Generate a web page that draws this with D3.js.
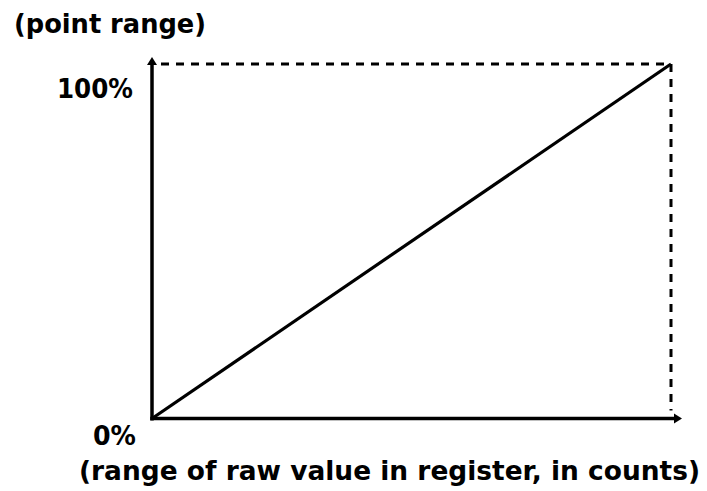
<!DOCTYPE html>
<html>
<head>
<meta charset="utf-8">
<script src="https://cdn.jsdelivr.net/npm/d3@7"></script>
<style>
  html, body { margin: 0; padding: 0; background: #fff; }
  svg { display: block; }
  text { font-family: "DejaVu Sans", "Liberation Sans", Arial, sans-serif; font-weight: bold; fill: #000; }
</style>
</head>
<body>
<svg id="chart" width="707" height="491"></svg>
<script>
// ---- data ----
const xDomain = [0, 1];            // fraction of raw register range
const yDomain = [0, 100];          // point range percent
const lineX = [0, 1];
const lineY = [0, 100];
const yTickValues = [0, 100];
const yTickLabels = ["0%", "100%"];
const yTitle = "(point range)";
const xTitle = "(range of raw value in register, in counts)";

const svg = d3.select("#chart");
const x = d3.scaleLinear().domain(xDomain).range([152, 671]);
const y = d3.scaleLinear().domain(yDomain).range([418.5, 64]);

// dashed guide lines (max x, max y)
svg.append("line")
  .attr("x1", x(0) + 9).attr("x2", x(1))
  .attr("y1", y(100)).attr("y2", y(100))
  .attr("stroke", "#000").attr("stroke-width", 3)
  .attr("stroke-dasharray", "8,7");
svg.append("line")
  .attr("x1", x(1)).attr("x2", x(1))
  .attr("y1", y(100)).attr("y2", y(0) - 8)
  .attr("stroke", "#000").attr("stroke-width", 3)
  .attr("stroke-dasharray", "8,7");

// axes lines with arrows
const yTop = y(100) - 7;
const xEnd = x(1) + 11;
svg.append("line")
  .attr("x1", x(0)).attr("x2", x(0))
  .attr("y1", y(0) + 2).attr("y2", yTop + 4)
  .attr("stroke", "#000").attr("stroke-width", 3.5);
svg.append("path")
  .attr("d", `M${x(0)},${yTop} L${x(0) - 5},${yTop + 8} L${x(0) + 5},${yTop + 8} Z`)
  .attr("fill", "#000");
svg.append("line")
  .attr("x1", x(0) - 1.75).attr("x2", xEnd - 4)
  .attr("y1", y(0)).attr("y2", y(0))
  .attr("stroke", "#000").attr("stroke-width", 3.5);
svg.append("path")
  .attr("d", `M${xEnd},${y(0)} L${xEnd - 8},${y(0) - 5} L${xEnd - 8},${y(0) + 5} Z`)
  .attr("fill", "#000");

// data line
const pts = lineX.map((d, i) => [x(d), y(lineY[i])]);
svg.append("path")
  .attr("d", d3.line()(pts))
  .attr("fill", "none").attr("stroke", "#000").attr("stroke-width", 3.2);

// y tick labels via axis
const yAxis = d3.axisLeft(y)
  .tickValues(yTickValues)
  .tickSize(0)
  .tickPadding(0)
  .tickFormat((d, i) => yTickLabels[i]);
const gy = svg.append("g").call(yAxis);
gy.select(".domain").remove();
gy.attr("font-family", null).attr("font-size", null);
gy.selectAll(".tick").each(function(d) {
  const t = d3.select(this).select("text")
    .attr("font-size", 26)
    .attr("x", d === 100 ? 133 : 136)
    .attr("dy", null)
    .attr("text-anchor", "end")
    .attr("lengthAdjust", "spacingAndGlyphs");
  if (d === 100) { t.attr("y", 97 - y(100)).attr("textLength", 76); }
  else { t.attr("y", 444 - y(0)).attr("textLength", 43); }
});

// titles
svg.append("text")
  .attr("x", 14).attr("y", 33)
  .attr("font-size", 26)
  .attr("textLength", 192).attr("lengthAdjust", "spacingAndGlyphs")
  .text(yTitle);
svg.append("text")
  .attr("x", 79).attr("y", 480)
  .attr("font-size", 26)
  .attr("textLength", 621).attr("lengthAdjust", "spacingAndGlyphs")
  .text(xTitle);
</script>
</body>
</html>
